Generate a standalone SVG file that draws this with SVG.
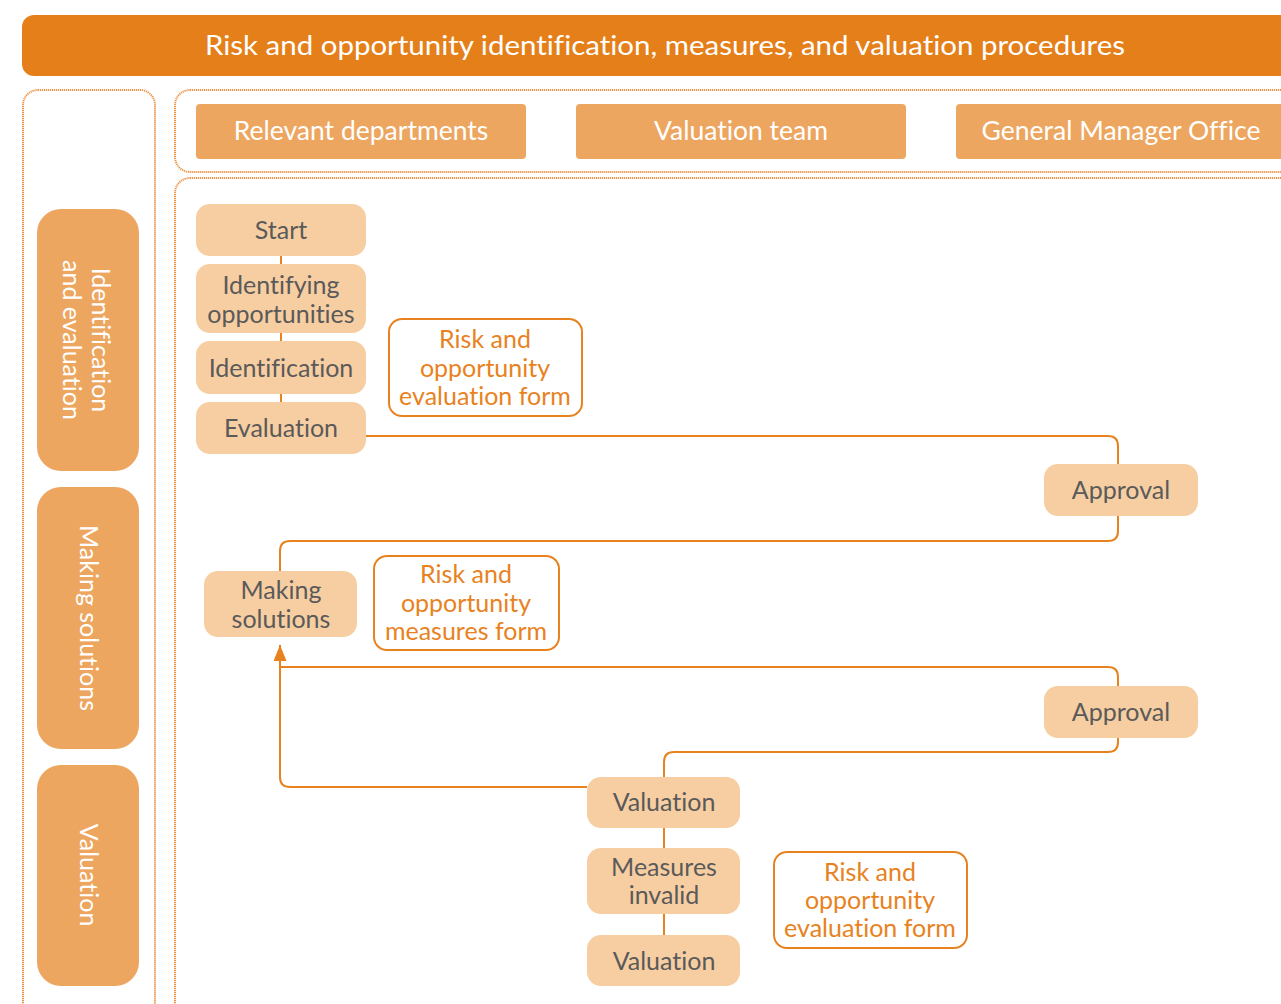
<svg xmlns="http://www.w3.org/2000/svg" width="1281" height="1004" viewBox="0 0 1281 1004">
  <defs>
    <style>
      text { font-family: Lato, "Noto Sans", sans-serif; font-variant-ligatures: none; }
      .frame { fill: none; stroke: #EC9343; stroke-width: 2; stroke-dasharray: 1.2 0.8; }
      .lane { fill: #EDA65F; }
      .lane-t { fill: #FFFFFF; font-size: 25px; text-anchor: middle; }
      .head-t { font-size: 26.5px; }
      .step { fill: #F7CEA1; }
      .step-t { fill: #5A5A5A; font-size: 25px; text-anchor: middle; }
      .doc { fill: #FFFFFF; stroke: #E8821E; stroke-width: 2; }
      .doc-t { fill: #E8821E; font-size: 25px; text-anchor: middle; }
      .link { fill: none; stroke: #E8821E; stroke-width: 2; }
    </style>
    <marker id="arrow" viewBox="0 0 16 13" refX="16" refY="6.5" markerWidth="16" markerHeight="13" markerUnits="userSpaceOnUse" orient="auto">
      <path d="M0 0 L16 6.5 L0 13 Z" fill="#E8821E"/>
    </marker>
  </defs>

  <!-- title bar -->
  <g id="title">
    <rect x="22" y="15" width="1290" height="61" rx="12" fill="#E47F1A"/>
    <text x="665" y="55" fill="#FFFFFF" font-size="27" text-anchor="middle" textLength="920" lengthAdjust="spacingAndGlyphs">Risk and opportunity identification, measures, and valuation procedures</text>
  </g>

  <!-- dotted frames -->
  <g id="frames">
    <rect class="frame" x="23" y="90" width="132" height="940" rx="15"/>
    <rect class="frame" x="175" y="90" width="1130" height="82" rx="15"/>
    <rect class="frame" x="175" y="178" width="1130" height="850" rx="15"/>
  </g>

  <!-- column headers -->
  <g id="col-relevant">
    <rect class="lane" x="196" y="104" width="330" height="55" rx="4"/>
    <text class="lane-t head-t" x="361" y="140">Relevant departments</text>
  </g>
  <g id="col-valuation">
    <rect class="lane" x="576" y="104" width="330" height="55" rx="4"/>
    <text class="lane-t head-t" x="741" y="140">Valuation team</text>
  </g>
  <g id="col-gm">
    <rect class="lane" x="956" y="104" width="340" height="55" rx="4"/>
    <text class="lane-t head-t" x="1121" y="140">General Manager Office</text>
  </g>

  <!-- phase labels -->
  <g id="phase-identification">
    <rect class="lane" x="37" y="209" width="102" height="262" rx="24"/>
    <text class="lane-t" transform="translate(88,340) rotate(90)"><tspan x="0" y="-4">Identification</tspan><tspan x="0" y="25">and evaluation</tspan></text>
  </g>
  <g id="phase-solutions">
    <rect class="lane" x="37" y="487" width="102" height="262" rx="24"/>
    <text class="lane-t" transform="translate(88,618) rotate(90)" x="0" y="8">Making solutions</text>
  </g>
  <g id="phase-valuation">
    <rect class="lane" x="37" y="765" width="102" height="221" rx="24"/>
    <text class="lane-t" transform="translate(88,875) rotate(90)" x="0" y="8">Valuation</text>
  </g>

  <!-- connectors -->
  <g id="connectors">
    <line class="link" x1="281" y1="256" x2="281" y2="264"/>
    <line class="link" x1="281" y1="333" x2="281" y2="341"/>
    <line class="link" x1="281" y1="394" x2="281" y2="402"/>
    <path class="link" d="M366 436 H1108 Q1118 436 1118 446 V464"/>
    <path class="link" d="M1118 516 V531 Q1118 541 1108 541 H290 Q280 541 280 551 V571"/>
    <path class="link" d="M280 667 H1108 Q1118 667 1118 677 V686"/>
    <path class="link" d="M1118 738 V742 Q1118 752 1108 752 H674 Q664 752 664 762 V777"/>
    <path class="link" d="M587 787 H290 Q280 787 280 777 V645" marker-end="url(#arrow)"/>
    <line class="link" x1="664" y1="828" x2="664" y2="848"/>
    <line class="link" x1="664" y1="914" x2="664" y2="935"/>
  </g>

  <!-- process steps -->
  <g id="step-start">
    <rect class="step" x="196" y="204" width="170" height="52" rx="14"/>
    <text class="step-t" x="281" y="239">Start</text>
  </g>
  <g id="step-identifying">
    <rect class="step" x="196" y="264" width="170" height="69" rx="14"/>
    <text class="step-t"><tspan x="281" y="294">Identifying</tspan><tspan x="281" y="323">opportunities</tspan></text>
  </g>
  <g id="step-identification">
    <rect class="step" x="196" y="341" width="170" height="53" rx="14"/>
    <text class="step-t" x="281" y="377">Identification</text>
  </g>
  <g id="step-evaluation">
    <rect class="step" x="196" y="402" width="170" height="52" rx="14"/>
    <text class="step-t" x="281" y="437">Evaluation</text>
  </g>
  <g id="step-approval-1">
    <rect class="step" x="1044" y="464" width="154" height="52" rx="14"/>
    <text class="step-t" x="1121" y="499">Approval</text>
  </g>
  <g id="step-solutions">
    <rect class="step" x="204" y="571" width="153" height="66" rx="14"/>
    <text class="step-t"><tspan x="281" y="599">Making</tspan><tspan x="281" y="628">solutions</tspan></text>
  </g>
  <g id="step-approval-2">
    <rect class="step" x="1044" y="686" width="154" height="52" rx="14"/>
    <text class="step-t" x="1121" y="721">Approval</text>
  </g>
  <g id="step-valuation-1">
    <rect class="step" x="587" y="777" width="153" height="51" rx="14"/>
    <text class="step-t" x="664" y="811">Valuation</text>
  </g>
  <g id="step-invalid">
    <rect class="step" x="587" y="848" width="153" height="66" rx="14"/>
    <text class="step-t"><tspan x="664" y="876">Measures</tspan><tspan x="664" y="904">invalid</tspan></text>
  </g>
  <g id="step-valuation-2">
    <rect class="step" x="587" y="935" width="153" height="51" rx="14"/>
    <text class="step-t" x="664" y="970">Valuation</text>
  </g>

  <!-- documents -->
  <g id="doc-evaluation-1">
    <rect class="doc" x="389" y="319" width="193" height="97" rx="13"/>
    <text class="doc-t"><tspan x="485" y="348">Risk and</tspan><tspan x="485" y="377">opportunity</tspan><tspan x="485" y="405">evaluation form</tspan></text>
  </g>
  <g id="doc-measures">
    <rect class="doc" x="374" y="556" width="185" height="94" rx="13"/>
    <text class="doc-t"><tspan x="466" y="583">Risk and</tspan><tspan x="466" y="612">opportunity</tspan><tspan x="466" y="640">measures form</tspan></text>
  </g>
  <g id="doc-evaluation-2">
    <rect class="doc" x="774" y="852" width="193" height="96" rx="13"/>
    <text class="doc-t"><tspan x="870" y="881">Risk and</tspan><tspan x="870" y="909">opportunity</tspan><tspan x="870" y="937">evaluation form</tspan></text>
  </g>
</svg>
